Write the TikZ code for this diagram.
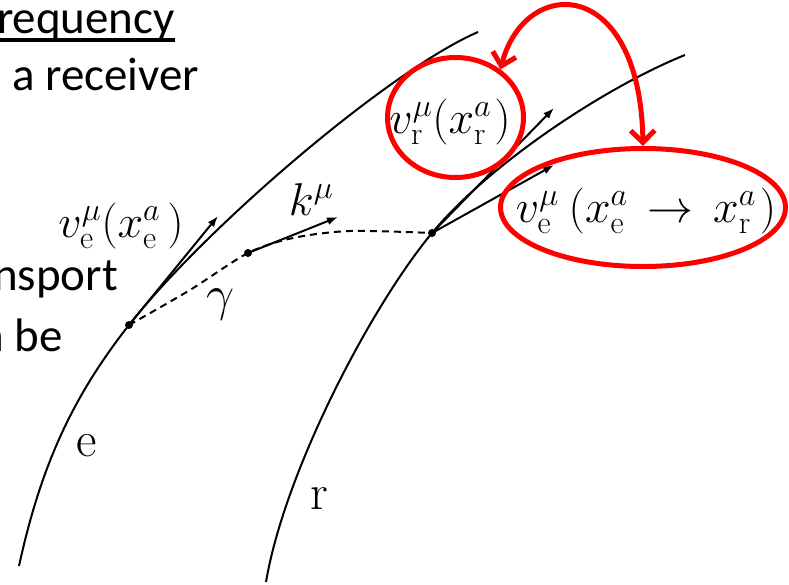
\RequirePackage{fix-cm}
\documentclass[tikz,border=0pt]{standalone}
\usepackage{fontspec}
\newfontfamily\calibri{Carlito}
\usetikzlibrary{arrows.meta,shapes.geometric}
\begin{document}
\begin{tikzpicture}[x=1pt,y=-1pt,
  wl/.style={line width=2pt},
  vec/.style={line width=2pt,-{Latex[length=11pt,width=8pt]}},
  ev/.style={circle,fill=black,inner sep=0pt,minimum size=8pt},
  lbl/.style={inner sep=0pt,anchor=base,font=\fontsize{50}{60}\selectfont},
  mlab/.style={inner sep=0pt,anchor=base,font=\fontsize{46}{54}\selectfont},
  ring/.style={ellipse,draw=red,line width=5pt,inner sep=0pt},
  redarr/.style={draw=red,line width=5pt,{Straight Barb[length=12pt,width=24pt]}-{Straight Barb[length=12pt,width=24pt]}},
  side/.style={font=\calibri\fontsize{47}{56}\selectfont,inner sep=0pt}
]
\clip (0,0) rectangle (789,584);
% side text
\node[side, anchor=base east] (t1) at (175,33) {requency};
\draw[line width=3.5pt] ([yshift=-7pt]t1.base west) -- ([yshift=-7pt]t1.base east);
\node[side, anchor=base west] (t2) at (12,90) {a receiver};
\node[side, anchor=base east] (t3) at (118,290) {nsport};
\node[side, anchor=base east] (t4) at (63,351) {n be};
% events
\node[ev] (xe) at (129,325) {};
\node[ev] (kp) at (248,253) {};
\node[ev] (xr) at (432,233) {};
% world lines
\coordinate (e0) at (19,566);
\coordinate (e1) at (478,32);
\coordinate (r0) at (266,582);
\coordinate (r1) at (685,55);
\draw[wl] (e0) .. controls (40,470) and (70,400) .. (xe.center)
              .. controls (206,227) and (390,70) .. (e1);
\draw[wl] (r0) .. controls (285,470) and (372,305) .. (xr.center)
              .. controls (492,161) and (610,85) .. (r1);
% photon path
\draw[wl,dash pattern=on 7pt off 5pt] plot[smooth] coordinates {(129,325) (190,290) (248,253) (293,238) (350,231) (432,233)};
% vectors
\coordinate (vetip) at (218,216);
\coordinate (ktip) at (338,217);
\coordinate (vrtip) at (554,108);
\coordinate (vttip) at (554,165);
\draw[vec] (xe.center) -- (vetip);
\draw[vec] (kp.center) -- (ktip);
\draw[vec] (xr.center) -- (vrtip);
\draw[vec] (xr.center) -- (vttip);
% labels
\node[mlab] (lve) at (121,237) {$v^\mu_\mathrm{e}(x^a_\mathrm{e}\kern7pt)$};
\node[mlab] (lk) at (311,215) {$k^\mu$};
\node[lbl] (lg) at (221,310) {$\gamma$};
\node[lbl] (le) at (87,456) {e};
\node[lbl] (lr) at (319,509) {r};
\node[mlab] (lvr) at (450,133) {$v^\mu_\mathrm{r}(x^a_\mathrm{r}\kern3pt)$};
\node[mlab] (lvt) at (646,222) {$v^\mu_\mathrm{e}\kern10pt(x^a_\mathrm{e}\kern7pt\to\kern7pt x^a_\mathrm{r}\kern4pt)$};
% red highlights
\node[ring, minimum width=136pt, minimum height=120pt] (rv) at (455.5,117.5) {};
\node[ring, minimum width=285pt, minimum height=118pt] (rb) at (643,207.5) {};
\draw[redarr] (rv.47) .. controls (525,-25) and (640,-25) .. (rb.north);
\end{tikzpicture}
\end{document}
